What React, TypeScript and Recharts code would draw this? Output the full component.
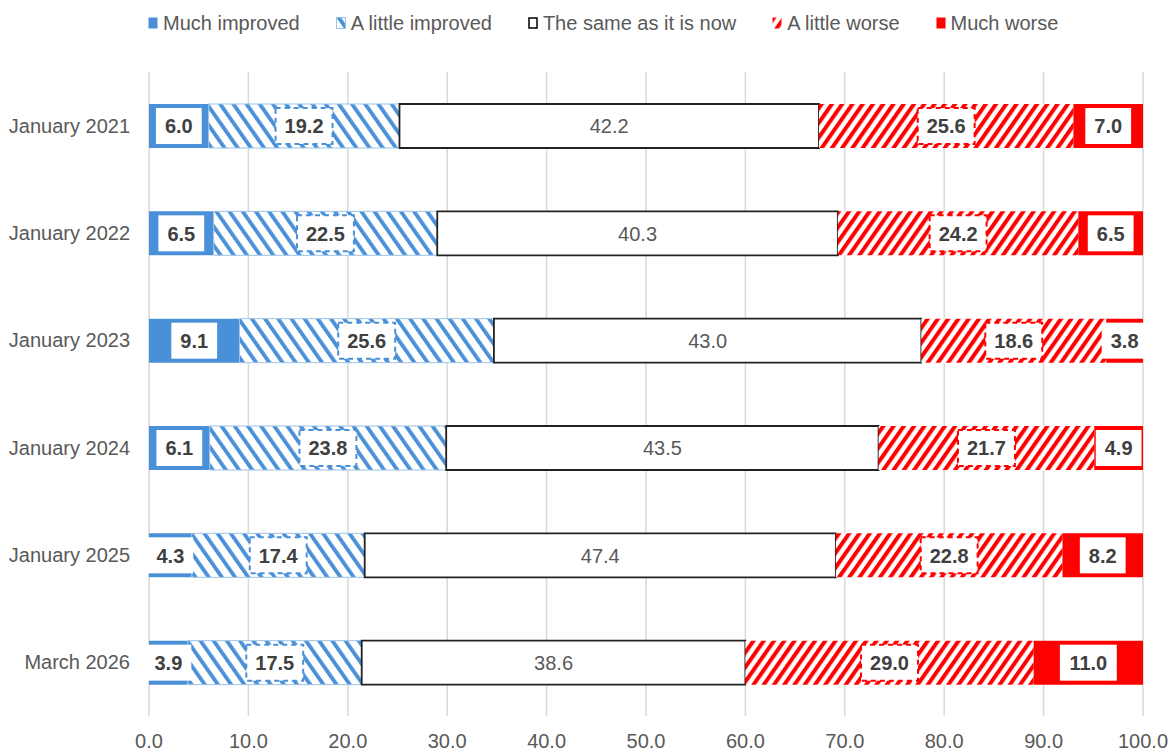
import React from 'react';
import { BarChart, Bar, XAxis, YAxis, CartesianGrid, Legend, LabelList } from 'recharts';

const categories = ['January 2021', 'January 2022', 'January 2023', 'January 2024', 'January 2025', 'March 2026'];
const muchImproved = [6.0, 6.5, 9.1, 6.1, 4.3, 3.9];
const littleImproved = [19.2, 22.5, 25.6, 23.8, 17.4, 17.5];
const sameAsNow = [42.2, 40.3, 43.0, 43.5, 47.4, 38.6];
const littleWorse = [25.6, 24.2, 18.6, 21.7, 22.8, 29.0];
const muchWorse = [7.0, 6.5, 3.8, 4.9, 8.2, 11.0];
const xTicks = [0, 10, 20, 30, 40, 50, 60, 70, 80, 90, 100];

const seriesNames = ['Much improved', 'A little improved', 'The same as it is now', 'A little worse', 'Much worse'];

const data = categories.map((name, i) => ({
  name,
  muchImproved: muchImproved[i],
  littleImproved: littleImproved[i],
  sameAsNow: sameAsNow[i],
  littleWorse: littleWorse[i],
  muchWorse: muchWorse[i],
}));

const BLUE = '#4A90D9';
const LIGHT_BLUE = '#9DC3E6';
const RED = '#FF0000';
const FONT = '"Liberation Sans", Arial, sans-serif';
const TEXT = '#595959';
const LABEL_TEXT = '#404040';
const FS = 20;

const textWidth = (s: string) => {
  let w = 0;
  for (const ch of s) w += ch === '.' ? 0.278 : 0.556;
  return w * FS;
};

type LabelKind = 'solid' | 'dashed' | 'plain';

const makeLabel = (kind: LabelKind, color: string) => (props: any) => {
  const { x, y, width, height, value } = props;
  const txt = Number(value).toFixed(1);
  const cx = Number(x) + Number(width) / 2;
  const cy = Number(y) + Number(height) / 2;
  if (kind === 'plain') {
    return (
      <text x={cx} y={cy} dy="0.36em" textAnchor="middle" fontFamily={FONT} fontSize={FS} fill={TEXT}>
        {txt}
      </text>
    );
  }
  const bw = textWidth(txt) + 18;
  const bh = 36;
  return (
    <g>
      <rect
        x={cx - bw / 2}
        y={cy - bh / 2}
        width={bw}
        height={bh}
        fill="#fff"
        stroke={kind === 'dashed' ? color : 'none'}
        strokeWidth={2}
        strokeDasharray={kind === 'dashed' ? '5 4' : undefined}
      />
      <text x={cx} y={cy} dy="0.36em" textAnchor="middle" fontFamily={FONT} fontSize={FS} fontWeight="bold" fill={LABEL_TEXT}>
        {txt}
      </text>
    </g>
  );
};

const LegendMarker = ({ idx }: { idx: number }) => {
  const common = { width: 9, height: 11 };
  let inner: React.ReactNode;
  if (idx === 0) inner = <rect x={0.5} y={0.5} {...common} fill={BLUE} />;
  else if (idx === 1) inner = <rect x={0.5} y={0.5} {...common} fill="url(#hatchBlue)" stroke={LIGHT_BLUE} strokeWidth={1} />;
  else if (idx === 2) inner = <rect x={1} y={1} width={8} height={10} fill="#fff" stroke="#000" strokeWidth={1.5} />;
  else if (idx === 3) inner = <rect x={0.5} y={0.5} {...common} fill="url(#hatchRed)" />;
  else inner = <rect x={0.5} y={0.5} {...common} fill={RED} />;
  return (
    <svg width={11} height={13} style={{ marginRight: 4, overflow: 'visible' }}>
      {inner}
    </svg>
  );
};

const renderLegend = () => (
  <div
    style={{
      display: 'flex',
      alignItems: 'center',
      height: 40,
      paddingLeft: 148,
      fontFamily: FONT,
      fontSize: FS,
      color: TEXT,
      whiteSpace: 'nowrap',
    }}
  >
    {seriesNames.map((n, i) => (
      <div key={n} style={{ display: 'flex', alignItems: 'center', marginRight: 36 }}>
        <LegendMarker idx={i} />
        <span>{n}</span>
      </div>
    ))}
  </div>
);

export default function App() {
  return (
    <div style={{ position: 'absolute', left: 0, top: 0, background: '#fff' }}>
      <BarChart
        width={1171}
        height={753}
        data={data}
        layout="vertical"
        margin={{ top: 32, right: 28, bottom: 0, left: 0 }}
      >
        <defs>
          <pattern id="hatchBlue" patternUnits="userSpaceOnUse" width={10.8} height={10.8} patternTransform="rotate(-35)">
            <rect width={10.8} height={10.8} fill="#fff" />
            <rect x={0} y={0} width={3.8} height={10.8} fill={BLUE} />
          </pattern>
          <pattern id="hatchRed" patternUnits="userSpaceOnUse" width={8.4} height={8.4} patternTransform="rotate(35)">
            <rect width={8.4} height={8.4} fill="#fff" />
            <rect x={0} y={0} width={4} height={8.4} fill={RED} />
          </pattern>
        </defs>
        <Legend
          verticalAlign="top"
          content={renderLegend}
          wrapperStyle={{ top: 3, left: 0, width: 1171, height: 40 }}
        />
        <CartesianGrid horizontal={false} stroke="#D9D9D9" strokeWidth={1.5} />
        <XAxis
          type="number"
          domain={[0, 100]}
          ticks={xTicks}
          allowDataOverflow
          tickFormatter={(v: number) => v.toFixed(1)}
          axisLine={false}
          tickLine={false}
          tickSize={0}
          tickMargin={18}
          height={37}
          tick={{ fill: TEXT, fontSize: FS, fontFamily: FONT }}
          interval={0}
        />
        <YAxis
          type="category"
          dataKey="name"
          width={149}
          axisLine={false}
          tickLine={false}
          tickSize={0}
          tickMargin={19}
          tick={{ fill: TEXT, fontSize: FS, fontFamily: FONT }}
          interval={0}
        />
        <Bar dataKey="muchImproved" name={seriesNames[0]} stackId="s" barSize={44} fill={BLUE} isAnimationActive={false}>
          <LabelList dataKey="muchImproved" content={makeLabel('solid', BLUE)} />
        </Bar>
        <Bar dataKey="littleImproved" name={seriesNames[1]} stackId="s" barSize={44} fill="url(#hatchBlue)" stroke={LIGHT_BLUE} strokeWidth={1} isAnimationActive={false}>
          <LabelList dataKey="littleImproved" content={makeLabel('dashed', BLUE)} />
        </Bar>
        <Bar dataKey="sameAsNow" name={seriesNames[2]} stackId="s" barSize={44} fill="#fff" stroke="#222" strokeWidth={1.8} isAnimationActive={false}>
          <LabelList dataKey="sameAsNow" content={makeLabel('plain', '#000')} />
        </Bar>
        <Bar dataKey="littleWorse" name={seriesNames[3]} stackId="s" barSize={44} fill="url(#hatchRed)" isAnimationActive={false}>
          <LabelList dataKey="littleWorse" content={makeLabel('dashed', RED)} />
        </Bar>
        <Bar dataKey="muchWorse" name={seriesNames[4]} stackId="s" barSize={44} fill={RED} isAnimationActive={false}>
          <LabelList dataKey="muchWorse" content={makeLabel('solid', RED)} />
        </Bar>
      </BarChart>
    </div>
  );
}
